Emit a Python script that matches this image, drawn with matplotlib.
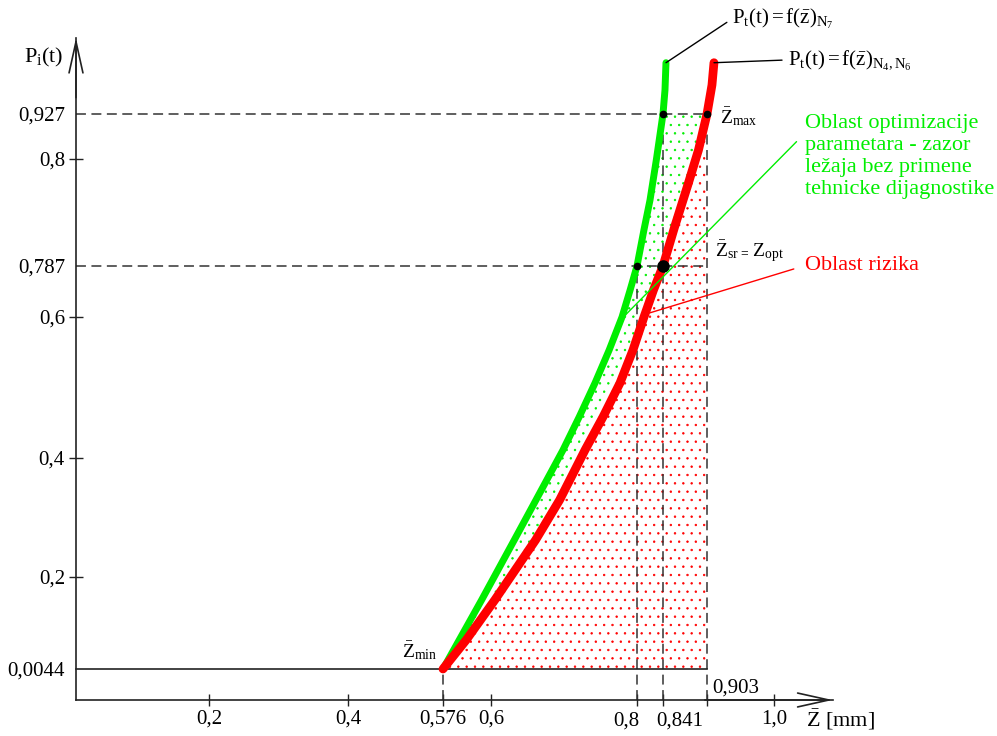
import numpy as np
import matplotlib
matplotlib.use("Agg")
import matplotlib.pyplot as plt

plt.rcParams['font.family'] = ['Liberation Serif', 'DejaVu Serif']
plt.rcParams['mathtext.fontset'] = 'custom'
plt.rcParams['mathtext.rm'] = 'Liberation Serif'
plt.rcParams['mathtext.it'] = 'Liberation Serif:italic'
plt.rcParams['mathtext.bf'] = 'Liberation Serif:bold'
plt.rcParams['hatch.linewidth'] = 0.5

# ---------------- data ----------------
green_z = [0.576, 0.5953, 0.6319, 0.6616, 0.6986, 0.7208, 0.7425, 0.7619, 0.7795,
           0.7906, 0.800, 0.811, 0.8205, 0.8307, 0.841, 0.8438, 0.8452]
green_p = [0.0044, 0.1511, 0.2622, 0.3294, 0.4113, 0.4582, 0.5064, 0.5532, 0.600,
           0.699, 0.787, 0.7914, 0.7950, 0.800, 0.927, 0.9607, 0.999]
red_z = [0.576, 0.5876, 0.6052, 0.6611, 0.694, 0.7288, 0.7534, 0.7767, 0.7945, 0.811,
         0.826, 0.841, 0.8572, 0.8769, 0.891, 0.903, 0.9102, 0.9131]
red_p = [0.0044, 0.0661, 0.1511, 0.2622, 0.3294, 0.4113, 0.4582, 0.5064, 0.5532, 0.600,
         0.699, 0.787, 0.7917, 0.7971, 0.8254, 0.927, 0.9677, 0.999]

z_min, z_green_opt, z_opt, z_max = 0.576, 0.8, 0.841, 0.903
p_min, p_opt, p_max = 0.0044, 0.787, 0.927

x_tick_values = [0.2, 0.4, 0.576, 0.6, 0.8, 0.841, 0.903, 1.0]
x_tick_labels = ['0,2', '0,4', '0,576', '0,6', '0,8', '0,841', '0,903', '1,0']
y_tick_values = [0.0044, 0.2, 0.4, 0.6, 0.787, 0.8, 0.927]
y_tick_labels = ['0,0044', '0,2', '0,4', '0,6', '0,787', '0,8', '0,927']
y_no_mark = [0.0044, 0.787, 0.927]

x_axis_end = 1.085
y_axis_end = 1.034

# ---------------- schematic (non-linear) axis layout ----------------
W, H = 997, 736
x_anchor_vals = [0.0, 0.2, 0.4, 0.576, 0.6, 0.8, 0.841, 0.903, 1.0]
x_anchor_px = [76, 209, 348, 443, 491, 637, 663, 707, 774]
y_anchor_vals = [0.0, 0.0044, 0.2, 0.4, 0.6, 0.787, 0.8, 0.927, 1.0]
y_anchor_px = [700, 669, 577, 458, 317, 266, 159, 114, 62]


def piecewise(xp, fp):
    xp = np.asarray(xp, float)
    fp = np.asarray(fp, float)
    s0 = (fp[1] - fp[0]) / (xp[1] - xp[0])
    s1 = (fp[-1] - fp[-2]) / (xp[-1] - xp[-2])

    def f(v):
        v = np.asarray(v, float)
        out = np.interp(v, xp, fp)
        out = np.where(v < xp[0], fp[0] + (v - xp[0]) * s0, out)
        out = np.where(v > xp[-1], fp[-1] + (v - xp[-1]) * s1, out)
        return out
    return f


y_pos = H - np.asarray(y_anchor_px, float)
fx, ix = piecewise(x_anchor_vals, x_anchor_px), piecewise(x_anchor_px, x_anchor_vals)
fy, iy = piecewise(y_anchor_vals, y_pos), piecewise(y_pos, y_anchor_vals)

fig = plt.figure(figsize=(W / 100, H / 100), dpi=100)
ax = fig.add_axes([0, 0, 1, 1])
ax.set_xscale('function', functions=(fx, ix))
ax.set_yscale('function', functions=(fy, iy))
ax.set_xlim(float(ix(0)), float(ix(W)))
ax.set_ylim(float(iy(0)), float(iy(H)))

GREEN = '#00ee00'
RED = '#ff0000'
AX = '#222222'

# axes (spines at origin)
for s in ['top', 'right']:
    ax.spines[s].set_visible(False)
ax.spines['left'].set_position(('data', 0))
ax.spines['bottom'].set_position(('data', 0))
ax.spines['left'].set_bounds(0, y_axis_end)
ax.spines['bottom'].set_bounds(0, x_axis_end)
for s in ['left', 'bottom']:
    ax.spines[s].set_linewidth(1.2)
    ax.spines[s].set_color(AX)

arrow_kw = dict(arrowstyle='->,head_length=2.25,head_width=0.5', lw=1.2, color=AX,
                shrinkA=0, shrinkB=0, mutation_scale=10)
ax.annotate('', xy=(x_axis_end, 0), xytext=(0.9, 0), arrowprops=arrow_kw)
ax.annotate('', xy=(0, y_axis_end), xytext=(0, 0.95), arrowprops=arrow_kw)

# ticks
ax.set_xticks(x_tick_values, [l if v not in (0.8, 0.841, 0.903) else ''
                              for v, l in zip(x_tick_values, x_tick_labels)])
ax.set_yticks(y_tick_values, y_tick_labels)
ax.minorticks_off()
ax.tick_params(axis='x', direction='inout', length=8, width=1, pad=3, labelsize=15, color=AX)
ax.tick_params(axis='y', direction='inout', length=10, width=1, pad=3, labelsize=15, color=AX)
for t, v in zip(ax.yaxis.get_major_ticks(), y_tick_values):
    if v in y_no_mark:
        t.tick1line.set_visible(False)

special_labels = {0.8: -8, 0.841: 12}
for v, dx in special_labels.items():
    ax.annotate(x_tick_labels[x_tick_values.index(v)], xy=(v, 0), xytext=(dx, -8),
                textcoords='offset points', ha='center', va='top', fontsize=15)
ax.annotate(x_tick_labels[x_tick_values.index(z_max)], xy=(z_max, 0), xytext=(3.5, 8.5),
            textcoords='offset points', ha='left', va='center', fontsize=15)

# guide lines
dash = dict(color='#333333', lw=1.1, dashes=(6.5, 3.6))
ax.plot([0, z_max], [p_max, p_max], **dash)
ax.plot([0, z_max], [p_opt, p_opt], **dash)
ax.plot([z_min, z_min], [0, p_min], **dash)
ax.plot([z_green_opt, z_green_opt], [0, p_opt], **dash)
ax.plot([z_opt, z_opt], [0, p_max], **dash)
ax.plot([z_max, z_max], [0, p_max], **dash)
ax.plot([0, z_max], [p_min, p_min], color=AX, lw=1.2)

# dotted regions
n_g = green_p.index(p_max) + 1
n_r = red_p.index(p_max) + 1
ax.fill_betweenx(red_p[:n_r], red_z[:n_r], z_max, facecolor='none', edgecolor=RED,
                 hatch='..', linewidth=0)
poly_z = green_z[:n_g] + red_z[:n_r][::-1]
poly_p = green_p[:n_g] + red_p[:n_r][::-1]
ax.fill(poly_z, poly_p, facecolor='none', edgecolor=GREEN, hatch='..', linewidth=0)

# curves
ax.plot(green_z, green_p, color=GREEN, lw=5, solid_capstyle='round')
ax.plot(red_z, red_p, color=RED, lw=6.3, solid_capstyle='round')

# markers
ax.plot([z_opt, z_max, z_green_opt], [p_max, p_max, p_opt], 'o', color='black', ms=4.5)
ax.plot([z_opt], [p_opt], 'o', color='black', ms=8)

# labels
ax.annotate(r'$\mathrm{P_{i}(t)}$', xy=(0, y_axis_end), xytext=(-9, -14),
            textcoords='offset points', ha='right', va='center', fontsize=16)
ax.annotate(r'$\mathrm{\bar{Z}}$ [mm]', xy=(x_axis_end, 0), xytext=(-19, -14),
            textcoords='offset points', ha='left', va='center', fontsize=16)

ax.annotate(r'$\mathrm{P_{t}(t)=f(\bar{z})_{N_7}}$', xy=(green_z[-1], green_p[-1]),
            xytext=(47.5, 31.5), textcoords='offset points', ha='left', va='center',
            fontsize=15,
            arrowprops=dict(arrowstyle='-', lw=1, color='black', shrinkA=2, shrinkB=0,
                            relpos=(0, 0.5)))
ax.annotate(r'$\mathrm{P_{t}(t)=f(\bar{z})_{N_4,N_6}}$', xy=(red_z[-1], red_p[-1]),
            xytext=(53, 2), textcoords='offset points', ha='left', va='center',
            fontsize=15,
            arrowprops=dict(arrowstyle='-', lw=1, color='black', shrinkA=2, shrinkB=0,
                            relpos=(0, 0.5)))

ax.annotate(r'$\mathrm{\bar{Z}_{max}}$', xy=(z_max, p_max), xytext=(9, -2),
            textcoords='offset points', ha='left', va='center', fontsize=14)
ax.annotate(r'$\mathrm{\bar{Z}_{sr\,=\,}Z_{opt}}$', xy=(z_max, p_opt), xytext=(5.5, 10),
            textcoords='offset points', ha='left', va='center', fontsize=14)
ax.annotate(r'$\mathrm{\bar{Z}_{min}}$', xy=(z_min, p_min), xytext=(-4, 13.5),
            textcoords='offset points', ha='right', va='center', fontsize=14)

ax.annotate('Oblast rizika', xy=(0.82, 0.615), xytext=(111.5, 34),
            textcoords='offset points', ha='left', va='center', fontsize=16, color=RED,
            arrowprops=dict(arrowstyle='-', lw=1, color=RED, shrinkA=6, shrinkB=0,
                            relpos=(0, 0.5)))
ax.annotate('Oblast optimizacije\nparametara - zazor\nležaja bez primene\ntehnicke dijagnostike',
            xy=(0.784, 0.607), xytext=(129.5, 114), textcoords='offset points',
            ha='left', va='center', ma='left', fontsize=16, color=GREEN, linespacing=1.22,
            arrowprops=dict(arrowstyle='-', lw=1, color=GREEN, shrinkA=6, shrinkB=0,
                            relpos=(0, 0.78)))

fig.savefig('out.png', dpi=100)
